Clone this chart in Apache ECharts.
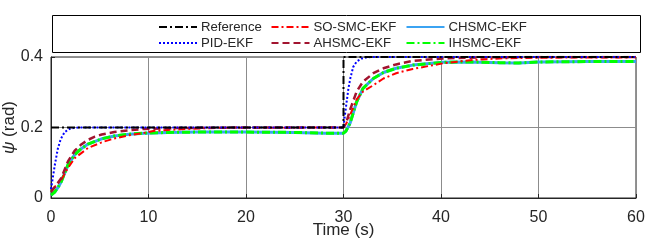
<!DOCTYPE html>
<html>
<head>
<meta charset="utf-8">
<script src="https://cdn.jsdelivr.net/npm/echarts@6/dist/echarts.min.js"></script>
<style>
html,body{margin:0;padding:0;background:#fff;}
#c{width:646px;height:242px;}
</style>
</head>
<body>
<div id="c"></div>
<script>
// ---- data ----
const xTicks = [0, 10, 20, 30, 40, 50, 60];
const yTicks = [0, 0.2, 0.4];

const tRef = [0, 30, 30, 60];
const vRef = [0.2, 0.2, 0.4, 0.4];

const tPID = [0, 0.2, 0.4, 0.7, 1.0, 1.4, 1.9, 2.4, 3, 30, 30.1, 30.3, 30.5, 30.7, 31, 31.35, 31.9, 32.4, 33, 60];
const vPID = [0.025, 0.06, 0.095, 0.14, 0.167, 0.187, 0.196, 0.199, 0.2, 0.2, 0.225, 0.268, 0.31, 0.34, 0.372, 0.387, 0.396, 0.399, 0.4, 0.4];

const tSOSMC = [0, 0.5, 1.06, 1.74, 2.43, 3.8, 5.2, 6.5, 8, 9.6, 10.5, 12, 14, 17, 30, 30.3, 30.67, 31.35, 32, 33.06, 34.1, 35.4, 37.1, 40.2, 43, 46, 50, 60];
const vSOSMC = [0.021, 0.035, 0.052, 0.085, 0.113, 0.142, 0.158, 0.169, 0.178, 0.185, 0.19, 0.193, 0.196, 0.199, 0.2, 0.212, 0.235, 0.28, 0.302, 0.32, 0.339, 0.354, 0.366, 0.382, 0.391, 0.396, 0.398, 0.399];

const tAHSMC = [0, 0.5, 1.06, 1.74, 2.43, 3.1, 3.8, 4.5, 5.2, 6.5, 8, 9.6, 12, 15, 20, 30, 30.3, 30.67, 31.35, 32, 33.06, 34.1, 35.4, 37.1, 40.2, 44, 50, 60];
const vAHSMC = [0.017, 0.035, 0.057, 0.104, 0.134, 0.152, 0.165, 0.174, 0.18, 0.187, 0.192, 0.196, 0.198, 0.199, 0.2, 0.2, 0.215, 0.25, 0.302, 0.33, 0.354, 0.368, 0.379, 0.389, 0.396, 0.399, 0.4, 0.4];

const tCHSMC = [0, 0.38, 0.72, 1.06, 1.74, 2.43, 3.1, 3.8, 5.2, 6.5, 8, 9.6, 12, 15, 20, 25, 28, 30, 30.25, 30.67, 31.35, 32, 33.06, 34.1, 35.4, 37.1, 40.2, 43, 46, 48, 50, 55, 60];
const vCHSMC = [0.008, 0.017, 0.03, 0.047, 0.094, 0.123, 0.14, 0.153, 0.168, 0.176, 0.181, 0.184, 0.186, 0.187, 0.187, 0.186, 0.184, 0.184, 0.19, 0.212, 0.273, 0.311, 0.339, 0.356, 0.368, 0.377, 0.385, 0.386, 0.384, 0.383, 0.386, 0.387, 0.387];

const tIHSMC = [0, 0.38, 0.72, 1.06, 1.74, 2.43, 3.1, 3.8, 5.2, 6.5, 8, 9.6, 12, 15, 20, 25, 28, 30, 30.25, 30.67, 31.35, 32, 33.06, 34.1, 35.4, 37.1, 40.2, 43, 46, 48, 50, 55, 60];
const vIHSMC = [0.008, 0.017, 0.03, 0.047, 0.094, 0.123, 0.14, 0.153, 0.168, 0.176, 0.181, 0.184, 0.186, 0.187, 0.187, 0.186, 0.184, 0.184, 0.19, 0.212, 0.273, 0.311, 0.339, 0.356, 0.368, 0.377, 0.385, 0.386, 0.384, 0.383, 0.386, 0.387, 0.387];

// ---- chart ----
function pairs(t, v) { return t.map((x, i) => [x, v[i]]); }
const FONT = 'Liberation Sans, Arial, sans-serif';
const TXT = '#262626';

function mk(name, t, v, color, type, width, z) {
  return {
    name: name, type: 'line', data: pairs(t, v), symbol: 'none', smooth: false,
    z: z, animation: false,
    lineStyle: { color: color, type: type, width: width },
    itemStyle: { color: color }
  };
}

const series = [
  mk('CHSMC-EKF', tCHSMC, vCHSMC, '#3ba3f2', 'solid', 3, 2),
  mk('IHSMC-EKF', tIHSMC, vIHSMC, '#00ff00', [8, 3, 2, 3], 3, 3),
  mk('SO-SMC-EKF', tSOSMC, vSOSMC, '#ff0000', [7, 3, 2, 3], 2, 4),
  mk('AHSMC-EKF', tAHSMC, vAHSMC, '#a2142f', [7, 4], 2.5, 5),
  mk('PID-EKF', tPID, vPID, '#0000ff', [2, 2], 2, 6),
  mk('Reference', tRef, vRef, '#000000', [8, 3, 2, 3], 2, 7)
];

function lg(left, names) {
  return {
    orient: 'vertical', left: left, top: 20.5, itemWidth: 38, itemHeight: 14, itemGap: 3,
    data: names, selectedMode: false, padding: 0,
    itemStyle: { opacity: 0 },
    textStyle: { fontFamily: FONT, fontSize: 13.2, color: TXT, padding: [0, 0, 0, -1] }
  };
}

const chart = echarts.init(document.getElementById('c'), null, { renderer: 'canvas' });
chart.setOption({
  animation: false,
  backgroundColor: '#fff',
  graphic: [{
    type: 'rect', shape: { x: 52.5, y: 15.5, width: 588, height: 37 },
    style: { fill: '#fff', stroke: '#000', lineWidth: 1 }, z: 0
  }],
  legend: [
    lg(158, ['Reference', 'PID-EKF']),
    lg(270.5, ['SO-SMC-EKF', 'AHSMC-EKF']),
    lg(405.5, ['CHSMC-EKF', 'IHSMC-EKF'])
  ],
  grid: { left: 51, right: 10, top: 57, bottom: 44, show: true, borderColor: '#262626', borderWidth: 1, containLabel: false, outerBoundsMode: 'none' },
  xAxis: {
    type: 'value', min: xTicks[0], max: xTicks[xTicks.length - 1], interval: 10,
    name: 'Time (s)', nameLocation: 'middle', nameGap: 24, nameMoveOverlap: false,
    nameTextStyle: { fontFamily: FONT, fontSize: 17, color: TXT },
    axisLine: { show: true, lineStyle: { color: '#262626', width: 1 } },
    axisTick: { show: true, inside: true, length: 4, lineStyle: { color: '#262626' } },
    axisLabel: { fontFamily: FONT, fontSize: 16, color: TXT, margin: 12 },
    splitLine: { show: true, lineStyle: { color: '#8c8c8c', width: 1 } }
  },
  yAxis: {
    type: 'value', min: yTicks[0], max: yTicks[yTicks.length - 1], interval: 0.2,
    name: '{i|ψ} (rad)', nameLocation: 'middle', nameGap: 33, nameRotate: 90, nameMoveOverlap: false,
    nameTextStyle: { fontFamily: FONT, fontSize: 17, color: TXT,
      rich: { i: { fontFamily: FONT, fontSize: 17, fontStyle: 'italic', color: TXT } } },
    axisLine: { show: true, lineStyle: { color: '#262626', width: 1 } },
    axisTick: { show: true, inside: true, length: 4, lineStyle: { color: '#262626' } },
    axisLabel: { fontFamily: FONT, fontSize: 16, color: TXT, margin: 8,
      formatter: function (v) { return v === 0 ? '0' : v.toFixed(1); } },
    splitLine: { show: true, lineStyle: { color: '#8c8c8c', width: 1 } }
  },
  series: series
});
</script>
</body>
</html>
